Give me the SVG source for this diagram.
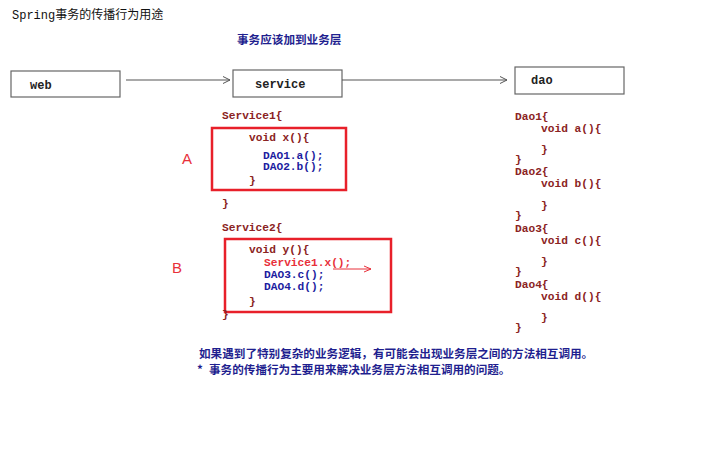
<svg xmlns="http://www.w3.org/2000/svg" width="726" height="465" viewBox="0 0 726 465">
  <defs>
    <marker id="open" markerWidth="10" markerHeight="10" refX="8" refY="4" orient="auto" markerUnits="userSpaceOnUse">
      <path d="M1,0.5 L8,4 L1,7.5" fill="none" stroke="#555" stroke-width="1"/>
    </marker>
    <marker id="openRed" markerWidth="10" markerHeight="10" refX="8" refY="4" orient="auto" markerUnits="userSpaceOnUse">
      <path d="M1,1 L8,4 L1,7" fill="none" stroke="#e8303a" stroke-width="1"/>
    </marker>
    <style>
      .box { fill: #fff; stroke: #666; stroke-width: 1.2; }
      .lbl { font-family: "Liberation Mono", "DejaVu Sans Mono", monospace; font-size: 12px; font-weight: bold; fill: #222; }
      .code { font-family: "Liberation Mono", "DejaVu Sans Mono", monospace; font-size: 11.2px; font-weight: bold; fill: #8b2323; }
      .call { fill: #1c1ca0; }
      .hot { fill: #e8303a; }
      .cn { font-family: "Liberation Mono", "Noto Sans CJK SC", monospace; font-size: 12px; }
      .note { font-family: "Noto Sans CJK SC", sans-serif; font-size: 11.6px; font-weight: bold; fill: #1f1f8f; }
      .frame { fill: none; stroke: #e8202a; stroke-width: 2.5; }
      .tag { font-family: "Liberation Sans", sans-serif; font-size: 15px; fill: #e8303a; }
      .conn { stroke: #555; stroke-width: 1.1; fill: none; }
    </style>
  </defs>
  <rect width="726" height="465" fill="#fff"/>

  <!-- headings -->
  <text class="cn" x="12" y="19" fill="#111">Spring<tspan font-family="Noto Sans CJK SC, sans-serif">事务的传播行为用途</tspan></text>
  <text class="note" x="237" y="44" font-size="12px">事务应该加到业务层</text>

  <!-- layer nodes -->
  <g id="web">
    <rect class="box" x="11" y="71" width="109" height="26"/>
    <text class="lbl" x="30" y="89">web</text>
  </g>
  <g id="service">
    <rect class="box" x="233" y="70" width="109" height="27"/>
    <text class="lbl" x="255" y="88">service</text>
  </g>
  <g id="dao">
    <rect class="box" x="515" y="67" width="109" height="27"/>
    <text class="lbl" x="531" y="84">dao</text>
  </g>

  <!-- connectors -->
  <g id="connectors">
    <line class="conn" x1="126" y1="80" x2="230" y2="80" marker-end="url(#open)"/>
    <line class="conn" x1="342" y1="80" x2="507" y2="80" marker-end="url(#open)"/>
    <line x1="333" y1="269" x2="371" y2="269" stroke="#e8303a" stroke-width="1" marker-end="url(#openRed)"/>
  </g>

  <!-- Service1 with method x -->
  <g id="service1">
    <text class="code" x="222" y="119">Service1{</text>
    <rect class="frame" x="212" y="128" width="134" height="62"/>
    <text class="code" x="249" y="141">void x(){</text>
    <text class="code call" x="263" y="159">DAO1.a();</text>
    <text class="code call" x="263" y="170">DAO2.b();</text>
    <text class="code" x="249" y="184">}</text>
    <text class="code" x="222" y="207">}</text>
    <text class="tag" x="182" y="164">A</text>
  </g>

  <!-- Service2 with method y -->
  <g id="service2">
    <text class="code" x="222" y="231">Service2{</text>
    <rect class="frame" x="225" y="239" width="166" height="73"/>
    <text class="code" x="249" y="253">void y(){</text>
    <text class="code hot" x="264" y="266">Service1.x();</text>
    <text class="code call" x="264" y="278">DAO3.c();</text>
    <text class="code call" x="264" y="290">DAO4.d();</text>
    <text class="code" x="249" y="305">}</text>
    <text class="code" x="222" y="318">}</text>
    <text class="tag" x="172" y="273">B</text>
  </g>

  <!-- DAO classes -->
  <g id="daos">
    <text class="code" x="515" y="120">Dao1{</text>
    <text class="code" x="541" y="132">void a(){</text>
    <text class="code" x="541" y="153">}</text>
    <text class="code" x="515" y="163">}</text>
    <text class="code" x="515" y="175">Dao2{</text>
    <text class="code" x="541" y="187">void b(){</text>
    <text class="code" x="541" y="209">}</text>
    <text class="code" x="515" y="219">}</text>
    <text class="code" x="515" y="232">Dao3{</text>
    <text class="code" x="541" y="244">void c(){</text>
    <text class="code" x="541" y="265">}</text>
    <text class="code" x="515" y="275">}</text>
    <text class="code" x="515" y="288">Dao4{</text>
    <text class="code" x="541" y="300">void d(){</text>
    <text class="code" x="541" y="321">}</text>
    <text class="code" x="515" y="331">}</text>
  </g>

  <!-- notes -->
  <text class="note" x="199" y="358">如果遇到了特别复杂的业务逻辑，有可能会出现业务层之间的方法相互调用。</text>
  <text class="note" x="197" y="374">*<tspan x="209">事务的传播行为主要用来解决业务层方法相互调用的问题。</tspan></text>
</svg>
